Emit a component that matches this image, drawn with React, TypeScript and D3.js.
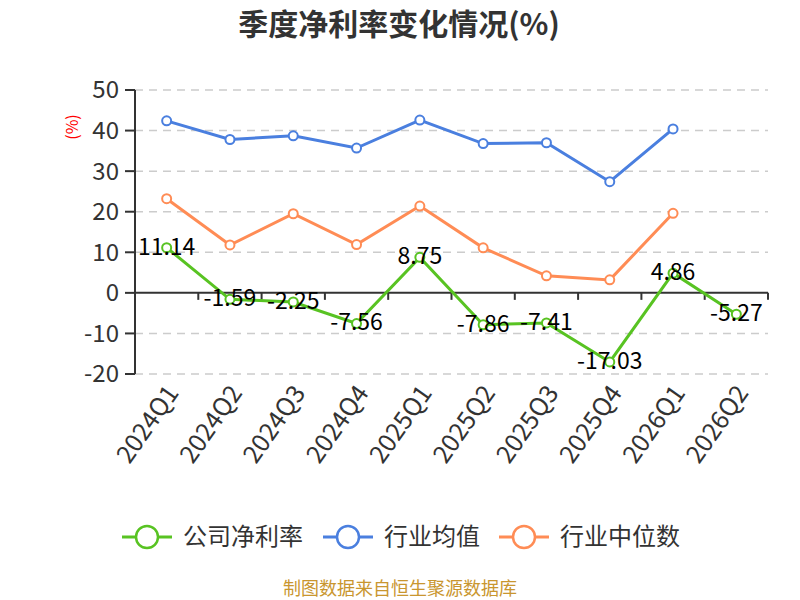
import React from "react";
import * as d3 from "d3";

const categories = ["2024Q1","2024Q2","2024Q3","2024Q4","2025Q1","2025Q2","2025Q3","2025Q4","2026Q1","2026Q2"];
const companyNet = [11.14, -1.59, -2.25, -7.56, 8.75, -7.86, -7.41, -17.03, 4.86, -5.27];
const industryAvg = [42.4, 37.8, 38.7, 35.7, 42.6, 36.8, 37.0, 27.4, 40.4];
const industryMedian = [23.2, 11.8, 19.5, 11.9, 21.4, 11.1, 4.2, 3.2, 19.6];
const yTicks = [50, 40, 30, 20, 10, 0, -10, -20];

const seriesNames = ["公司净利率", "行业均值", "行业中位数"];
const colors = ["#58c322", "#4a7fdf", "#ff8c55"];

const W = 800, H = 600;
const left = 135, right = 768, top = 90, bottom = 374;
const FONT = "'Noto Sans CJK SC', 'Noto Sans', sans-serif";

export default function App() {
  const x = d3.scaleBand<string>().domain(categories).range([left, right]);
  const y = d3.scaleLinear().domain([-20, 50]).range([bottom, top]);
  const cx = (c: string) => (x(c) as number) + x.bandwidth() / 2;
  const line = d3.line<[number, number]>().x(d => d[0]).y(d => d[1]);
  const series = [companyNet, industryAvg, industryMedian];
  const zeroY = y(0);
  const boundaries = d3.range(categories.length + 1).map(i => left + i * x.bandwidth());
  const legendX = [122, 323, 499];

  return (
    <svg width={W} height={H} style={{ position: "absolute", left: 0, top: 0, background: "#fff" }} fontFamily={FONT}>
      <text x={399} y={35} textAnchor="middle" fontSize={30} fontWeight="bold" fill="#333">季度净利率变化情况(%)</text>
      {/* grid */}
      {yTicks.map(t => t !== 0 && (
        <line key={t} x1={left} x2={right} y1={y(t)} y2={y(t)} stroke="#ccc" strokeWidth={1.5} strokeDasharray="8,6" />
      ))}
      {/* y axis */}
      <line x1={left} x2={left} y1={top} y2={bottom} stroke="#333" strokeWidth={2} />
      {yTicks.map(t => (
        <g key={"yt" + t}>
          <line x1={left - 10} x2={left} y1={y(t)} y2={y(t)} stroke="#333" strokeWidth={2} />
          <text x={left - 16} y={y(t)} dy="0.35em" textAnchor="end" fontSize={24} fill="#333">{t}</text>
        </g>
      ))}
      <text transform={`translate(78,127) rotate(-90)`} textAnchor="middle" fontSize={16} fill="red">(%)</text>
      {/* x axis at 0 */}
      <line x1={left} x2={right} y1={zeroY} y2={zeroY} stroke="#333" strokeWidth={2} />
      {boundaries.map((b, i) => (
        <line key={"xt" + i} x1={b} x2={b} y1={zeroY} y2={zeroY + 7} stroke="#333" strokeWidth={2} />
      ))}
      {categories.map(c => (
        <text key={c} transform={`translate(${cx(c) + 6},${bottom + 14}) rotate(-55)`} textAnchor="end" dy="0.35em" fontSize={25} fill="#333">{c}</text>
      ))}
      {/* lines */}
      {series.map((s, si) => {
        const pts: [number, number][] = s.map((v, i) => [cx(categories[i]), y(v)]);
        return (
          <g key={"s" + si}>
            <path d={line(pts) || ""} fill="none" stroke={colors[si]} strokeWidth={3} />
            {pts.map((p, i) => (
              <circle key={i} cx={p[0]} cy={p[1]} r={4.5} fill="#fff" stroke={colors[si]} strokeWidth={2} />
            ))}
          </g>
        );
      })}
      {companyNet.map((v, i) => (
        <text key={"lb" + i} x={cx(categories[i])} y={y(v)} dy="0.3em" textAnchor="middle" fontSize={23} fill="#000">{v.toFixed(2)}</text>
      ))}
      {/* legend */}
      {seriesNames.map((n, i) => {
        const lx = legendX[i];
        return (
          <g key={n}>
            <line x1={lx} x2={lx + 50} y1={537} y2={537} stroke={colors[i]} strokeWidth={3} />
            <circle cx={lx + 25} cy={537} r={11} fill="#fff" stroke={colors[i]} strokeWidth={2.5} />
            <text x={lx + 61} y={537} dy="0.35em" fontSize={24} fill="#333">{n}</text>
          </g>
        );
      })}
      <text x={400} y={589} dy="0.35em" textAnchor="middle" fontSize={18} fill="#c9962f">制图数据来自恒生聚源数据库</text>
    </svg>
  );
}
